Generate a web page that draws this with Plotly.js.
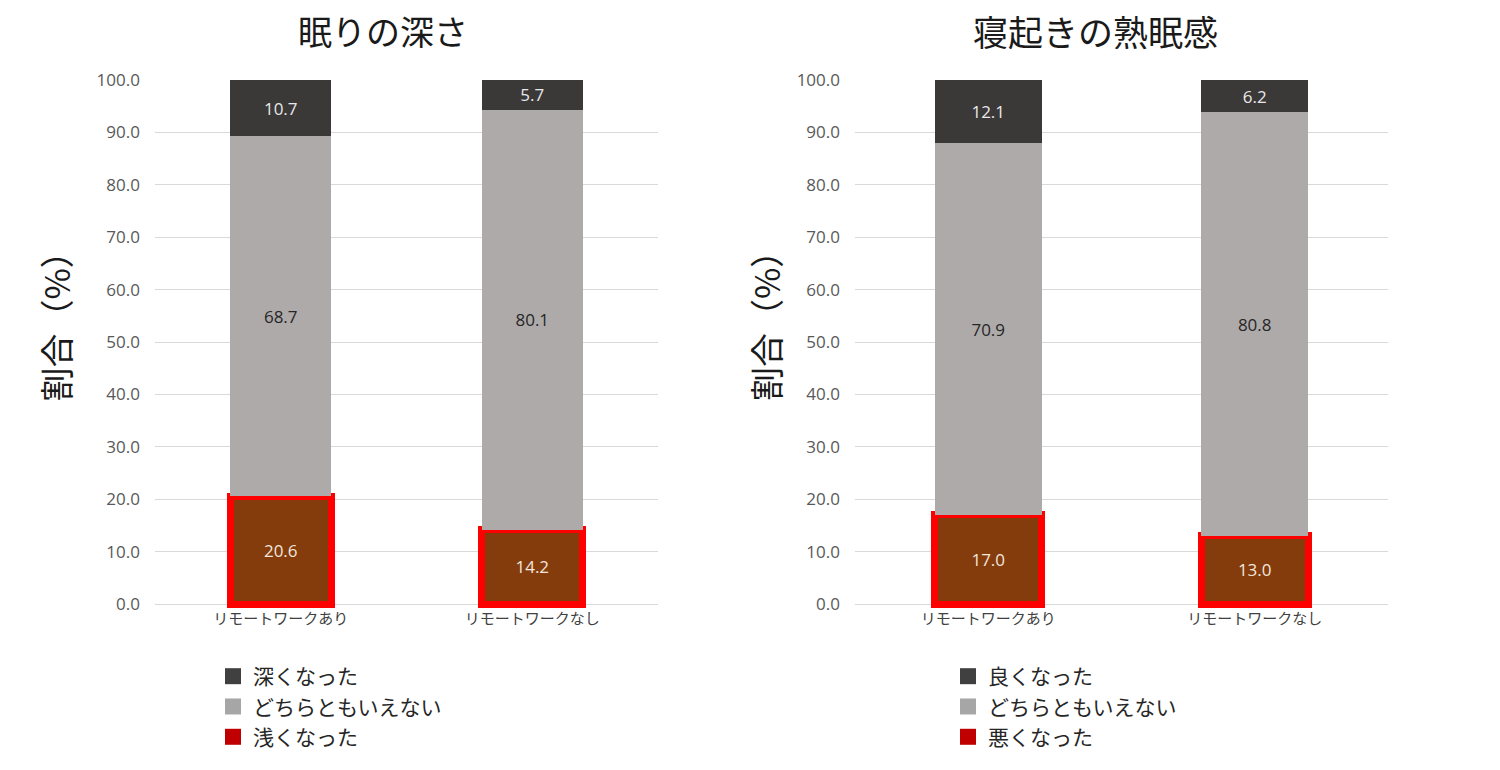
<!DOCTYPE html>
<html>
<head>
<meta charset="utf-8">
<script src="https://cdn.plot.ly/plotly-3.0.1.min.js"></script>
<style>
  html, body { margin: 0; padding: 0; background: #fff; }
  #chart { width: 1500px; height: 770px; }
</style>
</head>
<body>
<div id="chart"></div>
<script>
let categories = ['リモートワークあり', 'リモートワークなし'];

// 眠りの深さ
let depthWorse = [20.6, 14.2];
let depthSame = [68.7, 80.1];
let depthBetter = [10.7, 5.7];
let depthNames = ['浅くなった', 'どちらともいえない', '深くなった'];

// 寝起きの熟眠感
let wakeWorse = [17.0, 13.0];
let wakeSame = [70.9, 80.8];
let wakeBetter = [12.1, 6.2];
let wakeNames = ['悪くなった', 'どちらともいえない', '良くなった'];

let yTicks = [0, 10, 20, 30, 40, 50, 60, 70, 80, 90, 100];

let barColors = ['#843c0c', '#aeaaaa', '#3b3838'];
let labelColors = ['#f2e6dc', '#262626', '#e8e8e8'];
let legendColors = ['#c00000', '#a6a6a6', '#404040'];

let font = 'Noto Sans CJK JP, sans-serif';
let numFont = 'Open Sans, Noto Sans CJK JP, sans-serif';

function makeBars(series, names, xa, ya) {
    let traces = [];
    for (let i = 0; i < series.length; i++) {
        traces.push({
            type: 'bar',
            x: categories,
            y: series[i],
            xaxis: xa,
            yaxis: ya,
            name: names[i],
            showlegend: false,
            width: 0.4,
            marker: {
                color: barColors[i],
                line: i === 0 ? {color: '#ff0000', width: 7} : {width: 0}
            },
            text: series[i].map(v => v.toFixed(1)),
            textposition: 'inside',
            insidetextanchor: 'middle',
            textangle: 0,
            textfont: {family: numFont, size: 17, color: labelColors[i]},
            hoverinfo: 'skip'
        });
    }
    return traces;
}

function makeLegend(names, legendId) {
    let traces = [];
    // legend reads top to bottom: better, same, worse
    for (let i = names.length - 1; i >= 0; i--) {
        traces.push({
            type: 'scatter',
            mode: 'markers',
            x: [null],
            y: [null],
            name: names[i],
            legend: legendId,
            marker: {symbol: 'square', size: 16, color: legendColors[i]},
            hoverinfo: 'skip'
        });
    }
    return traces;
}

let data = []
    .concat(makeBars([depthWorse, depthSame, depthBetter], depthNames, 'x', 'y'))
    .concat(makeBars([wakeWorse, wakeSame, wakeBetter], wakeNames, 'x2', 'y2'))
    .concat(makeLegend(depthNames, 'legend'))
    .concat(makeLegend(wakeNames, 'legend2'));

function yAxis(anchor) {
    return {
        anchor: anchor,
        domain: [0.2101, 0.8961],
        range: [-0.8, 100],
        tickvals: yTicks,
        ticktext: yTicks.map(v => v.toFixed(1)),
        tickfont: {family: numFont, size: 17, color: '#595959'},
        showgrid: true,
        gridcolor: '#d9d9d9',
        gridwidth: 1,
        zeroline: false,
        showline: false,
        ticks: '',
        ticklabelstandoff: 14,
        fixedrange: true
    };
}

function xAxis(anchor, domain) {
    return {
        anchor: anchor,
        domain: domain,
        type: 'category',
        tickfont: {family: font, size: 15, color: '#404040'},
        showline: false,
        showgrid: false,
        zeroline: false,
        ticks: '',
        fixedrange: true
    };
}

let legendBase = {
    orientation: 'v',
    xanchor: 'left',
    yanchor: 'top',
    y: 0.148,
    traceorder: 'normal',
    font: {family: font, size: 21, color: '#262626'},
    bgcolor: 'rgba(0,0,0,0)',
    itemclick: false,
    itemdoubleclick: false,
    tracegroupgap: 0
};

let layout = {
    width: 1500,
    height: 770,
    margin: {l: 0, r: 0, t: 0, b: 0},
    paper_bgcolor: '#ffffff',
    plot_bgcolor: '#ffffff',
    barmode: 'stack',
    showlegend: true,
    xaxis: xAxis('y', [0.1033, 0.4387]),
    yaxis: yAxis('x'),
    xaxis2: xAxis('y2', [0.57, 0.9253]),
    yaxis2: yAxis('x2'),
    legend: Object.assign({}, legendBase, {x: 0.142}),
    legend2: Object.assign({}, legendBase, {x: 0.632}),
    annotations: [
        {text: '眠りの深さ', xref: 'paper', yref: 'paper', x: 0.255, y: 0.961,
         xanchor: 'center', yanchor: 'middle',
         showarrow: false, font: {family: font, size: 34, color: '#1a1a1a'}},
        {text: '寝起きの熟眠感', xref: 'paper', yref: 'paper', x: 0.730, y: 0.961,
         xanchor: 'center', yanchor: 'middle',
         showarrow: false, font: {family: font, size: 35, color: '#1a1a1a'}},
        {text: '割合（%）', xref: 'paper', yref: 'paper', x: 0.037, y: 0.587,
         xanchor: 'center', yanchor: 'middle',
         textangle: -90, showarrow: false, font: {family: font, size: 34, color: '#1a1a1a'}},
        {text: '割合（%）', xref: 'paper', yref: 'paper', x: 0.510, y: 0.587,
         xanchor: 'center', yanchor: 'middle',
         textangle: -90, showarrow: false, font: {family: font, size: 34, color: '#1a1a1a'}}
    ]
};

Plotly.newPlot('chart', data, layout, {displayModeBar: false, staticPlot: true});
</script>
</body>
</html>
